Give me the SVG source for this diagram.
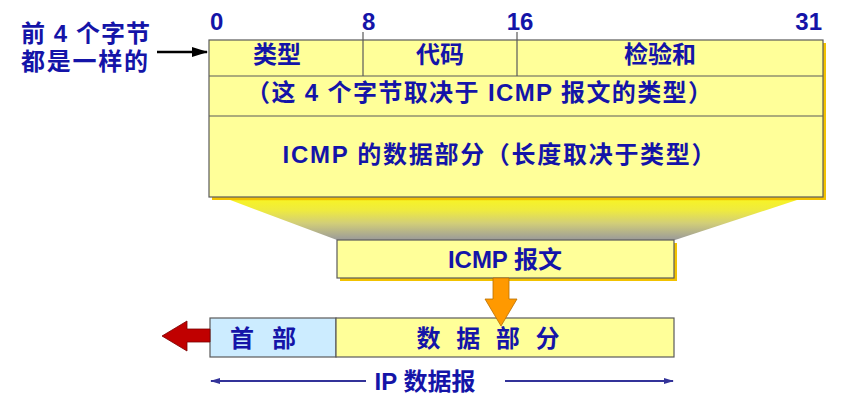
<svg xmlns="http://www.w3.org/2000/svg" width="847" height="400" viewBox="0 0 847 400">
<defs>
<style>
.box{fill:#FFFF99;stroke:#5a5a5a;stroke-width:1.2}
.hdr{fill:#CCECFF;stroke:#5a5a5a;stroke-width:1.2}
.sep{stroke:#5a5a5a;stroke-width:1.2;fill:none}
.shadow{fill:#F2C200}
.t{font-family:"Liberation Sans","Noto Sans CJK SC",sans-serif;font-weight:bold;font-size:24px;fill:#1414A8}
.dim{stroke:#333399;stroke-width:2;fill:none}
</style>
<linearGradient id="funnel" x1="0" y1="0" x2="0" y2="1">
<stop offset="0" stop-color="#F2C800"/>
<stop offset="0.08" stop-color="#F6F22A"/>
<stop offset="0.3" stop-color="#EEEA40"/>
<stop offset="0.6" stop-color="#D2CE78"/>
<stop offset="1" stop-color="#9A9A9A"/>
</linearGradient>
<marker id="blueHead" viewBox="0 0 10 6" refX="9" refY="3" markerWidth="10" markerHeight="6" markerUnits="userSpaceOnUse" orient="auto">
<path d="M0,0 L10,3 L0,6 z" fill="#333399"/>
</marker>
<marker id="blackHead" viewBox="0 0 16 10" refX="15" refY="5" markerWidth="16" markerHeight="10" markerUnits="userSpaceOnUse" orient="auto">
<path d="M0,0 L16,5 L0,10 z" fill="#000"/>
</marker>
</defs>

<g id="funnel-shape">
<polygon points="225,198 803,198 675,240 337,240" fill="url(#funnel)"/>
</g>

<g id="icmp-header-layout">
<rect class="shadow" x="212" y="43" width="614" height="157"/>
<rect class="box" x="209" y="40" width="614" height="157"/>
<line class="sep" x1="209" y1="76" x2="823" y2="76"/>
<line class="sep" x1="209" y1="116" x2="823" y2="116"/>
<line class="sep" x1="363" y1="32" x2="363" y2="76"/>
<line class="sep" x1="517" y1="32" x2="517" y2="76"/>
<text class="t" x="277" y="63" text-anchor="middle">类型</text>
<text class="t" x="440" y="63" text-anchor="middle">代码</text>
<text class="t" x="660" y="63" text-anchor="middle">检验和</text>
<text class="t" x="479" y="101" text-anchor="middle" textLength="466" lengthAdjust="spacing">（这 4 个字节取决于 ICMP 报文的类型）</text>
<text class="t" x="499" y="163" text-anchor="middle" textLength="433" lengthAdjust="spacing">ICMP 的数据部分（长度取决于类型）</text>
</g>

<g id="bit-numbers">
<text class="t" x="210" y="30">0</text>
<text class="t" x="362" y="30">8</text>
<text class="t" x="520" y="30" text-anchor="middle">16</text>
<text class="t" x="822" y="30" text-anchor="end">31</text>
</g>

<g id="left-label">
<text class="t" x="21" y="42" textLength="129" lengthAdjust="spacing">前 4 个字节</text>
<text class="t" x="21" y="70" textLength="127" lengthAdjust="spacing">都是一样的</text>
</g>

<g id="icmp-message">
<rect class="shadow" x="340" y="243" width="337" height="38"/>
<rect class="box" x="337" y="240" width="337" height="38"/>
<text class="t" x="505" y="268" text-anchor="middle">ICMP 报文</text>
</g>

<g id="ip-datagram">
<rect class="hdr" x="210" y="318" width="126" height="39"/>
<rect class="box" x="336" y="318" width="338" height="39"/>
<text class="t" x="263" y="347" text-anchor="middle" textLength="66" lengthAdjust="spacing">首 部</text>
<text class="t" x="488" y="347" text-anchor="middle" textLength="143" lengthAdjust="spacing">数 据 部 分</text>
</g>

<g id="ip-label">
<text class="t" x="425" y="390" text-anchor="middle">IP 数据报</text>
</g>

<g id="connectors">
<line x1="157" y1="52" x2="207" y2="52" stroke="#000" stroke-width="2.5" marker-end="url(#blackHead)"/>
<polygon points="493,278 509,278 509,299 517,299 501,326 485,299 493,299" fill="#FF9900" stroke="#B86E00" stroke-width="0.8"/>
<polygon points="210,329 187,329 187,321 162,336 187,351 187,342 210,342" fill="#C00000" stroke="#7A0000" stroke-width="0.8"/>
<line class="dim" x1="366" y1="381" x2="211" y2="381" marker-end="url(#blueHead)"/>
<line class="dim" x1="505" y1="381" x2="673" y2="381" marker-end="url(#blueHead)"/>
</g>
</svg>
